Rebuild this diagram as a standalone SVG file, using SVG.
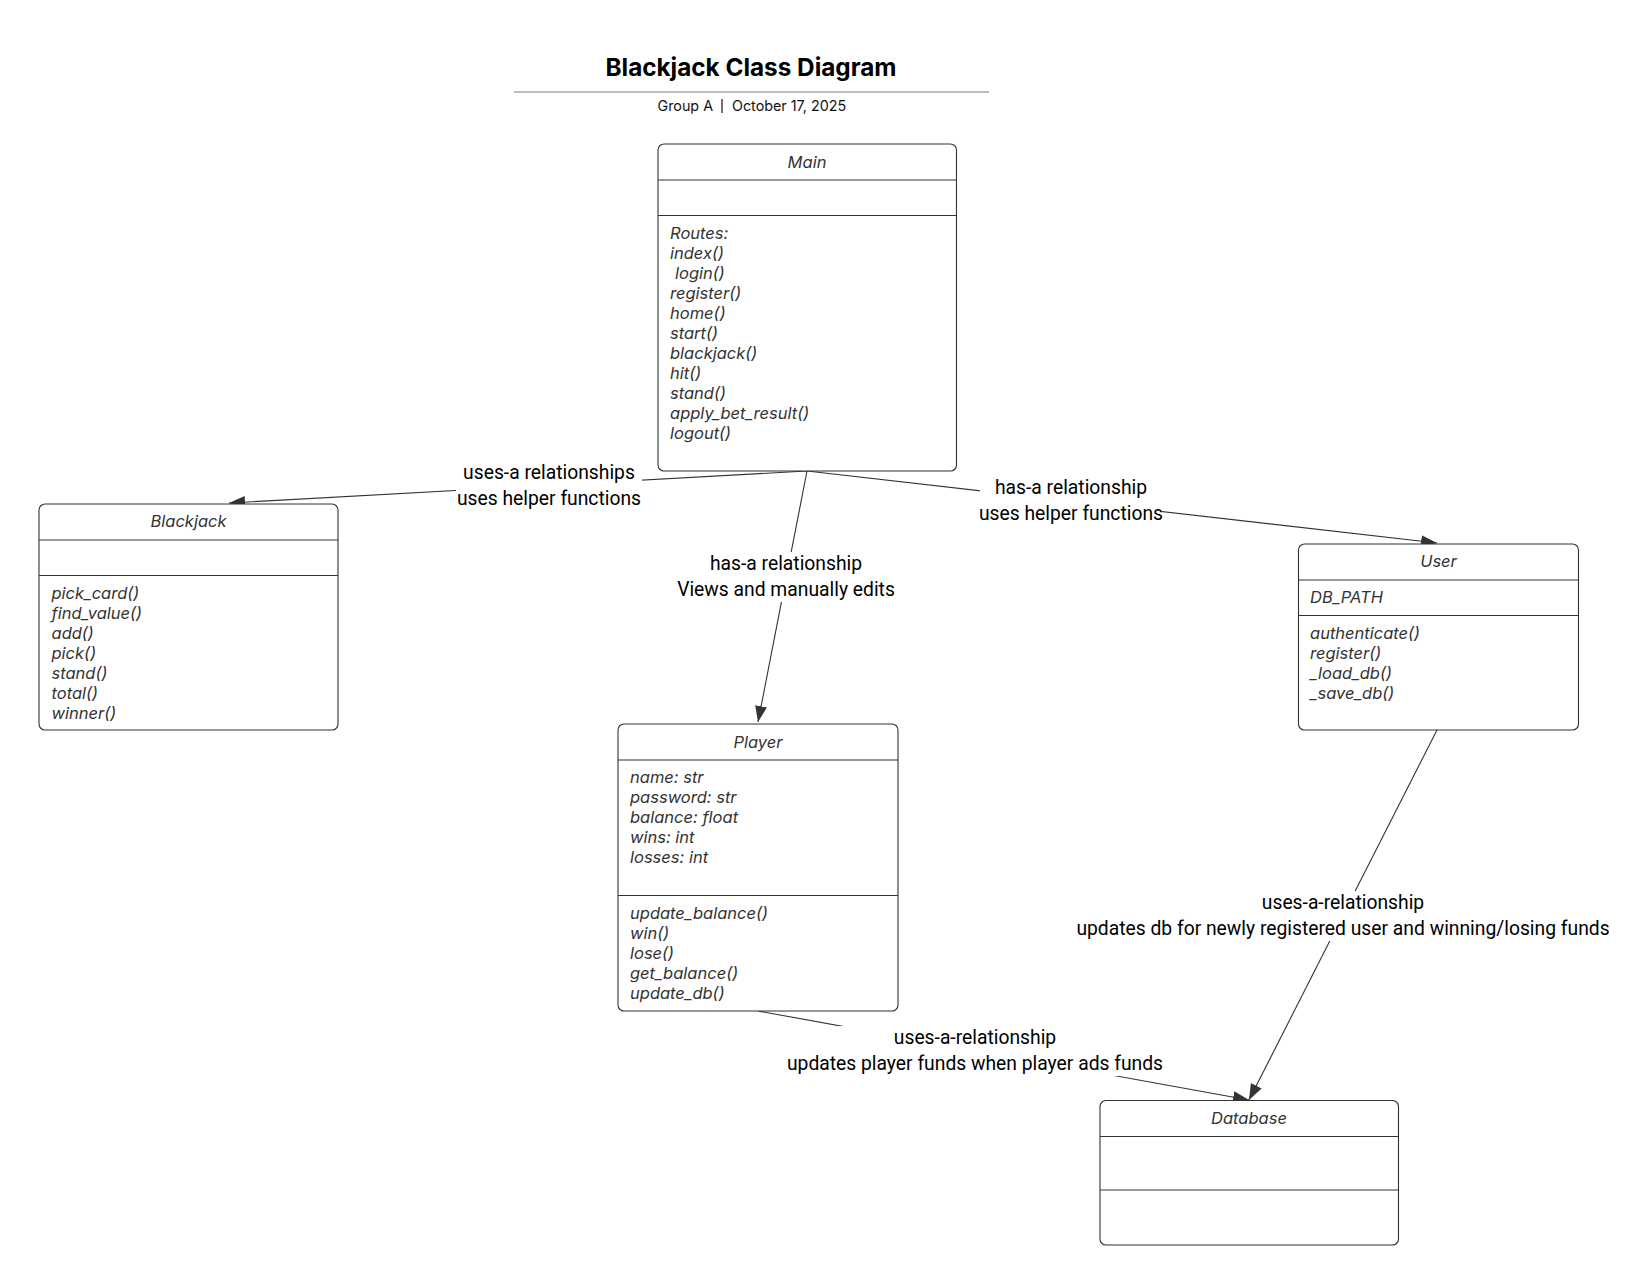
<svg xmlns="http://www.w3.org/2000/svg" width="1650" height="1285" viewBox="0 0 1650 1285">
<style>
.box{fill:#fff;stroke:#333;stroke-width:1.1}
.div{stroke:#333;stroke-width:1.1}
.nt{font-family:Inter,"Noto Sans",sans-serif;font-style:italic;font-size:16.5px;fill:#333}
.nh{font-family:Inter,"Noto Sans",sans-serif;font-style:italic;font-size:16.5px;fill:#333;text-anchor:middle}
.edge{fill:none;stroke:#333;stroke-width:1.1}
.lbg{fill:#fff}
.lbl{font-family:Roboto,"Liberation Sans",sans-serif;font-size:19.3px;fill:#000;text-anchor:middle}
</style>
<defs>
<marker id="arr" markerUnits="userSpaceOnUse" markerWidth="17" markerHeight="13" refX="16" refY="6" orient="auto">
<path d="M0,0 L16,6 L0,12 z" fill="#333"/>
</marker>
</defs>
<rect width="1650" height="1285" fill="#fff"/>
<g id="title">
<text x="751" y="76" text-anchor="middle" font-family="Inter,'Noto Sans',sans-serif" font-weight="700" font-size="24.3" fill="#000">Blackjack Class Diagram</text>
<line x1="514" y1="92" x2="989" y2="92" stroke="#a4a7b3" stroke-width="1.6"/>
<text x="713" y="111" text-anchor="end" font-family="Inter,'Noto Sans',sans-serif" font-size="14.3" fill="#111">Group A</text>
<line x1="722" y1="99" x2="722" y2="113" stroke="#111" stroke-width="1.2"/>
<text x="732" y="111" font-family="Inter,'Noto Sans',sans-serif" font-size="14.3" fill="#111">October 17, 2025</text>
</g>
<g id="connectors">
<path class="edge" d="M807,471 L229,503" marker-end="url(#arr)"/>
<path class="edge" d="M807,471 L758,722" marker-end="url(#arr)"/>
<path class="edge" d="M807,471 L1437,543" marker-end="url(#arr)"/>
<path class="edge" d="M1437,730 L1249,1100" marker-end="url(#arr)"/>
<path class="edge" d="M758,1011 L1249,1100" marker-end="url(#arr)"/>
<rect class="lbg" x="456" y="461" width="186" height="50"/>
<text class="lbl" x="549" y="479">uses-a relationships</text>
<text class="lbl" x="549" y="505">uses helper functions</text>
<rect class="lbg" x="678" y="552" width="216" height="50"/>
<text class="lbl" x="786" y="570">has-a relationship</text>
<text class="lbl" x="786" y="596">Views and manually edits</text>
<rect class="lbg" x="980" y="476" width="182" height="50"/>
<text class="lbl" x="1071" y="494">has-a relationship</text>
<text class="lbl" x="1071" y="520">uses helper functions</text>
<rect class="lbg" x="1076" y="891" width="533" height="50"/>
<text class="lbl" x="1343" y="909">uses-a-relationship</text>
<text class="lbl" x="1343" y="935">updates db for newly registered user and winning/losing funds</text>
<rect class="lbg" x="787" y="1026" width="377" height="50"/>
<text class="lbl" x="975" y="1044">uses-a-relationship</text>
<text class="lbl" x="975" y="1070">updates player funds when player ads funds</text>
</g>
<g id="Main">
<rect class="box" x="658" y="144" width="298.5" height="327" rx="6"/>
<line class="div" x1="658" y1="180" x2="956.5" y2="180"/>
<line class="div" x1="658" y1="215.5" x2="956.5" y2="215.5"/>
<text class="nh" x="807" y="168">Main</text>
<text class="nt" x="670" y="239">Routes:<tspan x="670" dy="20">index()</tspan><tspan x="675" dy="20">login()</tspan><tspan x="670" dy="20">register()</tspan><tspan x="670" dy="20">home()</tspan><tspan x="670" dy="20">start()</tspan><tspan x="670" dy="20">blackjack()</tspan><tspan x="670" dy="20">hit()</tspan><tspan x="670" dy="20">stand()</tspan><tspan x="670" dy="20">apply_bet_result()</tspan><tspan x="670" dy="20">logout()</tspan></text>
</g>
<g id="Blackjack">
<rect class="box" x="39" y="504" width="299" height="226" rx="6"/>
<line class="div" x1="39" y1="540" x2="338" y2="540"/>
<line class="div" x1="39" y1="575.5" x2="338" y2="575.5"/>
<text class="nh" x="188.5" y="527">Blackjack</text>
<text class="nt" x="51.5" y="599">pick_card()<tspan x="51.5" dy="20">find_value()</tspan><tspan x="51.5" dy="20">add()</tspan><tspan x="51.5" dy="20">pick()</tspan><tspan x="51.5" dy="20">stand()</tspan><tspan x="51.5" dy="20">total()</tspan><tspan x="51.5" dy="20">winner()</tspan></text>
</g>
<g id="User">
<rect class="box" x="1298.5" y="544" width="280" height="186" rx="6"/>
<line class="div" x1="1298.5" y1="580" x2="1578.5" y2="580"/>
<line class="div" x1="1298.5" y1="615.5" x2="1578.5" y2="615.5"/>
<text class="nh" x="1438.5" y="567">User</text>
<text class="nt" x="1310" y="603">DB_PATH</text>
<text class="nt" x="1310" y="639">authenticate()<tspan x="1310" dy="20">register()</tspan><tspan x="1310" dy="20">_load_db()</tspan><tspan x="1310" dy="20">_save_db()</tspan></text>
</g>
<g id="Player">
<rect class="box" x="618" y="724" width="280" height="287" rx="6"/>
<line class="div" x1="618" y1="760" x2="898" y2="760"/>
<line class="div" x1="618" y1="895.5" x2="898" y2="895.5"/>
<text class="nh" x="758" y="747.5">Player</text>
<text class="nt" x="630" y="783">name: str<tspan x="630" dy="20">password: str</tspan><tspan x="630" dy="20">balance: float</tspan><tspan x="630" dy="20">wins: int</tspan><tspan x="630" dy="20">losses: int</tspan></text>
<text class="nt" x="630" y="919">update_balance()<tspan x="630" dy="20">win()</tspan><tspan x="630" dy="20">lose()</tspan><tspan x="630" dy="20">get_balance()</tspan><tspan x="630" dy="20">update_db()</tspan></text>
</g>
<g id="Database">
<rect class="box" x="1100" y="1100.5" width="298.5" height="144.5" rx="6"/>
<line class="div" x1="1100" y1="1136.5" x2="1398.5" y2="1136.5"/>
<line class="div" x1="1100" y1="1190" x2="1398.5" y2="1190"/>
<text class="nh" x="1249" y="1124">Database</text>
</g>
</svg>
